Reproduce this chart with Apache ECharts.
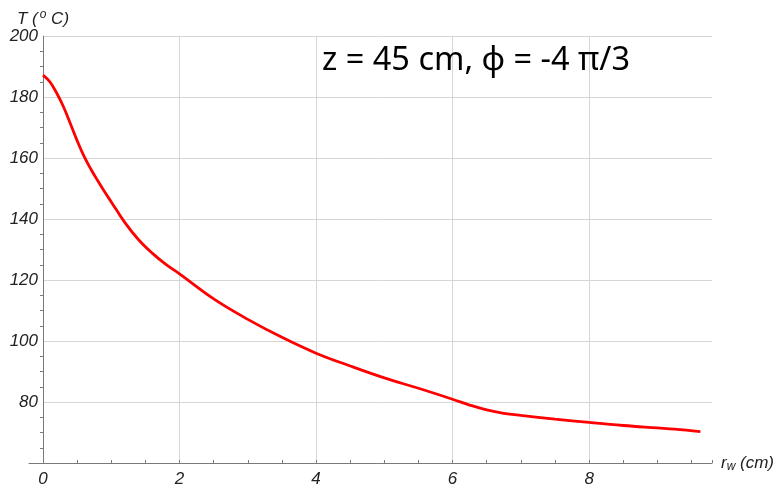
<!DOCTYPE html>
<html>
<head>
<meta charset="utf-8">
<script src="https://cdn.jsdelivr.net/npm/echarts@6/dist/echarts.min.js"></script>
<style>
  html, body { margin: 0; padding: 0; background: #fff; }
  #main { width: 779px; height: 485px; }
</style>
</head>
<body>
<div id="main"></div>
<script>
// r_w (cm) and T (°C)
var rw = [0, 0.1, 0.2, 0.3, 0.4, 0.5, 0.6, 0.7, 0.8, 0.9, 1.0, 1.2, 1.4, 1.6, 1.8, 2.0, 2.5, 3.0, 3.5, 4.0, 4.5, 5.0, 5.5, 6.0, 6.25, 6.5, 6.75, 7.0, 7.5, 8.0, 8.5, 9.0, 9.25, 9.63];
var temp = [187.2, 185, 181.3, 176.8, 171.3, 165.7, 160.6, 156.4, 152.6, 149, 145.6, 138.8, 133.2, 128.8, 125.1, 122, 113.8, 107.1, 101.2, 96, 91.8, 87.9, 84.5, 80.9, 79, 77.4, 76.3, 75.6, 74.4, 73.3, 72.3, 71.5, 71.1, 70.3];
var xTicks = [0, 2, 4, 6, 8];
var yTicks = [80, 100, 120, 140, 160, 180, 200];
var titleText = 'z = 45 cm, \u03d5 = -4 \u03c0/3';

var labelFont = 'Liberation Sans';
var axisGray = '#7a7a7a';
var gridGray = '#d6d6d6';

var chart = echarts.init(document.getElementById('main'));
chart.setOption({
  animation: false,
  backgroundColor: '#fff',
  title: {
    text: titleText,
    left: 317,
    top: 39,
    textStyle: { fontFamily: 'Noto Sans', fontWeight: 'normal', fontSize: 32.5, color: '#000' }
  },
  grid: [
    { left: 43, right: 67, top: 36, bottom: 22, containLabel: false, outerBoundsMode: 'none' },
    // short stub of the x axis left of r = 0
    { left: 29, width: 14, top: 36, bottom: 22, containLabel: false, outerBoundsMode: 'none' }
  ],
  xAxis: [{
    type: 'value',
    gridIndex: 0,
    min: 0,
    max: 9.8,
    interval: 2,
    axisLine: { onZero: false, lineStyle: { color: axisGray, width: 1 } },
    axisTick: { show: false },
    axisLabel: {
      margin: 8,
      color: '#222',
      fontFamily: labelFont,
      fontStyle: 'italic',
      fontSize: 17,
      formatter: function (v) { return xTicks.indexOf(v) >= 0 ? String(v) : ''; }
    },
    splitLine: { show: true, showMinLine: false, showMaxLine: false, lineStyle: { color: gridGray, width: 1 } },
    name: '{i|r}{sub|w}{i| (cm)}',
    nameLocation: 'end',
    nameGap: 9,
    nameTextStyle: {
      rich: {
        i: { fontFamily: labelFont, fontStyle: 'italic', fontSize: 17, color: '#222' },
        sub: { fontFamily: labelFont, fontStyle: 'italic', fontSize: 12, color: '#222', verticalAlign: 'bottom', padding: [7, 0, 0, 0] }
      }
    }
  }, {
    // minor ticks every 0.5
    type: 'value',
    gridIndex: 0,
    position: 'bottom',
    min: 0,
    max: 9.8,
    interval: 0.5,
    axisLine: { show: false, onZero: false },
    axisLabel: { show: false },
    splitLine: { show: false },
    axisTick: { show: true, inside: true, length: 3, lineStyle: { color: axisGray } }
  }, {
    type: 'value',
    gridIndex: 1,
    min: 0,
    max: 1,
    axisLine: { show: true, onZero: false, lineStyle: { color: axisGray, width: 1 } },
    axisTick: { show: false },
    axisLabel: { show: false },
    splitLine: { show: false }
  }],
  yAxis: [{
    type: 'value',
    gridIndex: 0,
    min: 60,
    max: 200,
    interval: 20,
    axisLine: { show: true, onZero: false, lineStyle: { color: axisGray, width: 1 } },
    axisTick: { show: false },
    minorTick: { show: true, splitNumber: 4, length: 3, lineStyle: { color: axisGray } },
    axisLabel: {
      margin: 5,
      color: '#222',
      fontFamily: labelFont,
      fontStyle: 'italic',
      fontSize: 17,
      formatter: function (v) { return yTicks.indexOf(v) >= 0 ? String(v) : ''; }
    },
    splitLine: { show: true, lineStyle: { color: gridGray, width: 1 } },
    name: '{i|T (}{sup|o}{i| C)}',
    nameLocation: 'end',
    nameGap: 4,
    nameTextStyle: {
      rich: {
        i: { fontFamily: labelFont, fontStyle: 'italic', fontSize: 17, color: '#222' },
        sup: { fontFamily: labelFont, fontStyle: 'italic', fontSize: 12, color: '#222', verticalAlign: 'top', padding: [0, 0, 8, 2] }
      }
    }
  }, {
    type: 'value',
    gridIndex: 1,
    show: false,
    min: 60,
    max: 200
  }],
  series: [{
    type: 'line',
    xAxisIndex: 0,
    yAxisIndex: 0,
    data: rw.map(function (x, i) { return [x, temp[i]]; }),
    smooth: 0.4,
    showSymbol: false,
    lineStyle: { color: '#ff0000', width: 2.8 },
    z: 5
  }]
});
</script>
</body>
</html>
